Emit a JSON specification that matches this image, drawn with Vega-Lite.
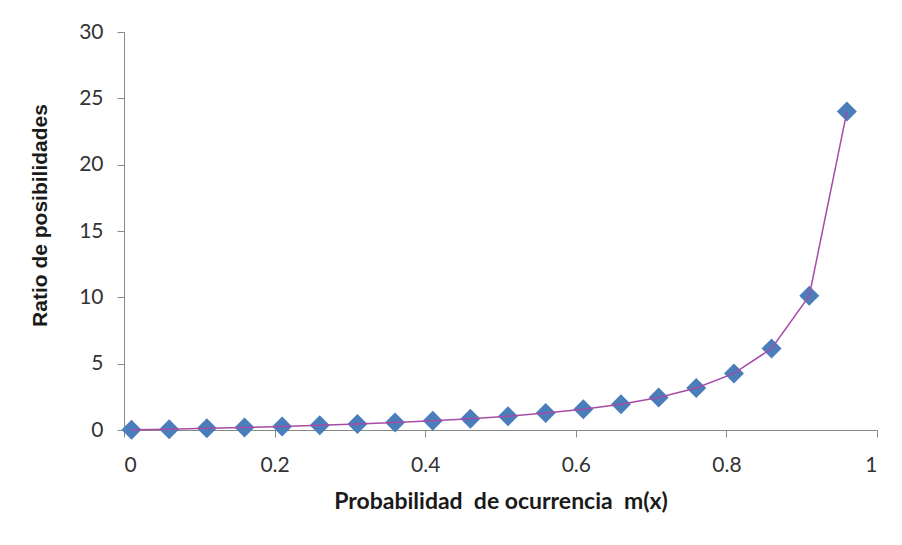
{
  "$schema": "https://vega.github.io/schema/vega-lite/v6.json",
  "autosize": {"type": "none"},
  "width": 753,
  "height": 398,
  "padding": {"left": 124, "top": 32, "right": 25, "bottom": 115},
  "background": "white",
  "config": {"view": {"stroke": null}},
  "data": {"values": [
    {"m": 0.01, "r": 0.0101},
    {"m": 0.06, "r": 0.064},
    {"m": 0.11, "r": 0.124},
    {"m": 0.16, "r": 0.19},
    {"m": 0.21, "r": 0.266},
    {"m": 0.26, "r": 0.351},
    {"m": 0.31, "r": 0.449},
    {"m": 0.36, "r": 0.5625},
    {"m": 0.41, "r": 0.695},
    {"m": 0.46, "r": 0.852},
    {"m": 0.51, "r": 1.041},
    {"m": 0.56, "r": 1.273},
    {"m": 0.61, "r": 1.564},
    {"m": 0.66, "r": 1.941},
    {"m": 0.71, "r": 2.448},
    {"m": 0.76, "r": 3.167},
    {"m": 0.81, "r": 4.263},
    {"m": 0.86, "r": 6.143},
    {"m": 0.91, "r": 10.11},
    {"m": 0.96, "r": 24.0}
  ]},
  "encoding": {
    "x": {
      "field": "m", "type": "quantitative",
      "scale": {"domain": [0, 1], "nice": false, "zero": false},
      "axis": {
        "values": [0, 0.2, 0.4, 0.6, 0.8, 1],
        "format": "~g",
        "grid": false,
        "domainColor": "#888888",
        "tickColor": "#888888",
        "tickSize": 7,
        "labelFont": "Lato",
        "labelFontSize": 21,
        "labelColor": "#333333",
        "labelPadding": 17,
        "title": "Probabilidad\u00a0 de ocurrencia\u00a0 m(x)",
        "titleFont": "Lato",
        "titleFontSize": 23,
        "titleFontWeight": "bold",
        "titleColor": "#1a1a1a",
        "titlePadding": 15
      }
    },
    "y": {
      "field": "r", "type": "quantitative",
      "scale": {"domain": [0, 30], "nice": false},
      "axis": {
        "values": [0, 5, 10, 15, 20, 25, 30],
        "grid": false,
        "domainColor": "#888888",
        "tickColor": "#888888",
        "tickSize": 7,
        "labelFont": "Lato",
        "labelFontSize": 21,
        "labelColor": "#333333",
        "labelPadding": 14,
        "title": "Ratio de posibilidades",
        "titleFont": "Liberation Sans",
        "titleFontSize": 21,
        "titleFontWeight": "bold",
        "titleColor": "#1a1a1a",
        "titlePadding": 28,
        "titleY": 183
      }
    }
  },
  "layer": [
    {
      "mark": {"type": "point", "shape": "diamond", "filled": true, "size": 400, "color": "#4a7ebb", "opacity": 1}
    },
    {
      "mark": {"type": "line", "color": "#a64ca6", "strokeWidth": 1.5}
    }
  ]
}
